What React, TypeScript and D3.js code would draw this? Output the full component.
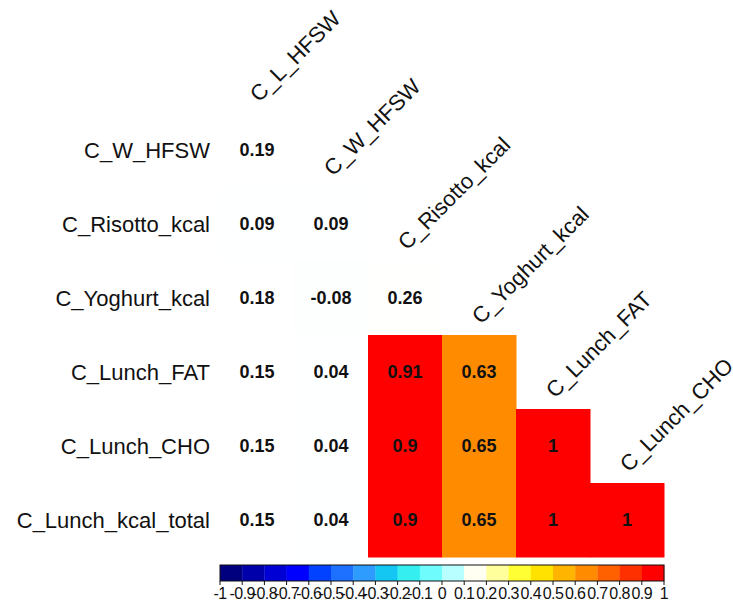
import React from "react";
import * as d3 from "d3";

const rowLabels = ["C_W_HFSW", "C_Risotto_kcal", "C_Yoghurt_kcal", "C_Lunch_FAT", "C_Lunch_CHO", "C_Lunch_kcal_total"];
const colLabels = ["C_L_HFSW", "C_W_HFSW", "C_Risotto_kcal", "C_Yoghurt_kcal", "C_Lunch_FAT", "C_Lunch_CHO"];
const values: number[][] = [
  [0.19],
  [0.09, 0.09],
  [0.18, -0.08, 0.26],
  [0.15, 0.04, 0.91, 0.63],
  [0.15, 0.04, 0.9, 0.65, 1],
  [0.15, 0.04, 0.9, 0.65, 1, 1],
];
const binEdges = [-0.9, -0.8, -0.7, -0.6, -0.5, -0.4, -0.3, -0.2, -0.1, 0, 0.1, 0.2, 0.3, 0.4, 0.5, 0.6, 0.7, 0.8, 0.9];
const binColors = [
  "#00007f", "#0000aa", "#0000d4", "#0000ff", "#0042ff", "#1e70ff", "#2e9cff", "#14c6f2", "#35eef0", "#6ffcfc",
  "#b8ffff", "#fffff2", "#ffff9c", "#ffff33", "#ffe200", "#ffb400", "#ff8c00", "#ff6000", "#ff3000", "#ff0000",
];
const legendTicks = ["-1", "-0.9", "-0.8", "-0.7", "-0.6", "-0.5", "-0.4", "-0.3", "-0.2", "-0.1", "0", "0.1", "0.2", "0.3", "0.4", "0.5", "0.6", "0.7", "0.8", "0.9", "1"];

const W = 733, H = 606;
const FONT = "'Liberation Sans', Arial, sans-serif";

export default function App() {
  const x = d3.scaleBand<number>().domain(d3.range(6)).range([220, 664]).padding(0);
  const y = d3.scaleBand<number>().domain(d3.range(6)).range([113, 557]).padding(0);
  const color = d3.scaleThreshold<number, string>().domain(binEdges).range(binColors);
  const fillFor = (v: number) => {
    const c = color(v);
    return Math.abs(v) < 0.3 ? d3.interpolateRgb(c, "#ffffff")(0.985) : c;
  };
  const lx = d3.scaleLinear().domain([-1, 1]).range([220, 664]);
  const bw = x.bandwidth();
  const bh = y.bandwidth();

  return (
    <svg width={W} height={H} style={{ position: "absolute", left: 0, top: 0, background: "#fff" }}>
      <rect x={0} y={0} width={W} height={H} fill="#fff" />
      {values.map((row, i) =>
        row.map((v, j) => (
          <g key={`c${i}-${j}`}>
            <rect x={x(j)!} y={y(i)!} width={bw + 0.5} height={bh + 0.5} fill={fillFor(v)} />
            <text
              x={x(j)! + bw / 2}
              y={y(i)! + bh / 2}
              dy="0.36em"
              textAnchor="middle"
              fontFamily={FONT}
              fontWeight="bold"
              fontSize={18}
              fill="#111"
            >
              {String(v)}
            </text>
          </g>
        ))
      )}
      {rowLabels.map((r, i) => (
        <text key={`r${i}`} x={210} y={y(i)! + bh / 2} dy="0.36em" textAnchor="end" fontFamily={FONT} fontSize={22} fill="#111">
          {r}
        </text>
      ))}
      {colLabels.map((c, j) => {
        const ax = x(j)! + bw / 2 + 2;
        const ay = y(j)! - 10;
        return (
          <text key={`h${j}`} x={ax} y={ay} transform={`rotate(-45 ${ax} ${ay})`} textAnchor="start" fontFamily={FONT} fontSize={22} fill="#111">
            {c}
          </text>
        );
      })}
      {binColors.map((c, k) => (
        <rect key={`b${k}`} x={lx(-1 + k * 0.1)} y={565} width={lx(-0.9) - lx(-1) + 0.3} height={16} fill={c} />
      ))}
      <rect x={220} y={565} width={444} height={16} fill="none" stroke="#111" strokeWidth={1} />
      {legendTicks.map((t, k) => {
        const tx = lx(-1 + k * 0.1);
        return (
          <g key={`t${k}`}>
            <line x1={tx} x2={tx} y1={581} y2={585} stroke="#111" strokeWidth={1} />
            <text x={tx} y={599} textAnchor="middle" fontFamily={FONT} fontSize={16} letterSpacing={-0.6} fill="#111">
              {t}
            </text>
          </g>
        );
      })}
    </svg>
  );
}
